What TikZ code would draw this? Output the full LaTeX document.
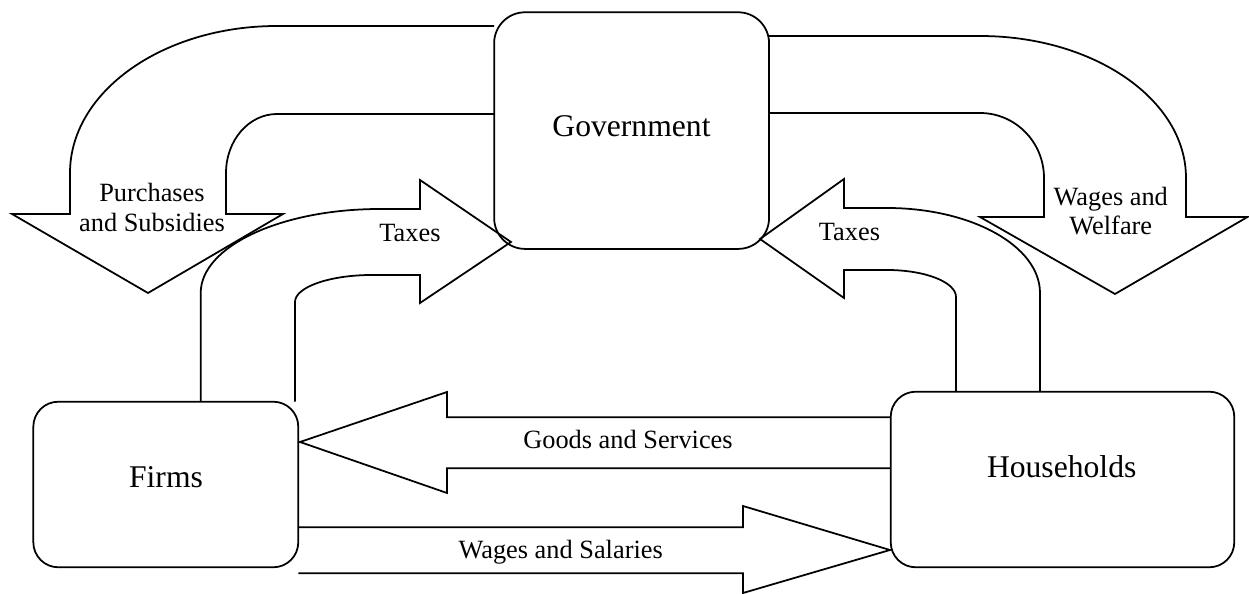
\documentclass[tikz,border=0pt]{standalone}
\usepackage{fontspec}
\setmainfont{Liberation Serif}
\begin{document}
\begin{tikzpicture}[x=0.02cm,y=-0.02cm,
  box/.style={draw, line width=1pt, inner sep=0pt, rounded corners=0.5cm},
  big/.style={font=\fontsize{18}{21.6}\selectfont, inner sep=0pt},
  lbl/.style={font=\fontsize{15}{17}\selectfont, inner sep=0pt, align=center},
  flow/.style={draw, line width=1pt, line join=miter}]
\useasboundingbox (0,0) rectangle (1249,594);

% boxes
\node[box, rounded corners=0.62cm, minimum width=5.5cm, minimum height=4.734cm] (gov) at (631.6,130.6) {};
\node[box, minimum width=5.3cm, minimum height=3.312cm] (firms) at (165.8,484.5) {};
\node[box, minimum width=6.872cm, minimum height=3.512cm] (hh) at (1062.5,479.5) {};

\node[big, anchor=base] (govtext) at (631.5,137) {Government};
\node[big, anchor=base] (firmstext) at (166,488) {Firms};
\node[big, anchor=base] (hhtext) at (1061.7,478) {Households};

% Purchases and Subsidies (government -> firms side)
\draw[flow] (494,26) -- (277,26) .. controls (162.7,26) and (70,91.8) .. (70,173)
  -- (70,214) -- (12,214) -- (148,293) -- (283,214) -- (226,214) -- (226,173)
  .. controls (226,140.4) and (248.8,114) .. (277,114) -- (494,114);

% Wages and Welfare (government -> households side)
\draw[flow] (769,36) -- (980,36) .. controls (1093.8,36) and (1186,99.6) .. (1186,178)
  -- (1186,217) -- (1247.5,217) -- (1115,294) -- (980,217) -- (1044,217) -- (1044,178)
  .. controls (1044,142.1) and (1015.3,113) .. (980,113) -- (769,113);

% Taxes from firms
\draw[flow] (200.7,401.7) -- (200.7,293) .. controls (200.7,246.6) and (280.6,209) .. (380,209)
  -- (420,209) -- (420,180) -- (511,242) -- (420,303) -- (420,275) -- (372,275)
  .. controls (329.5,275) and (295,287.1) .. (295,302) -- (295,401.7);

% Taxes from households
\draw[flow] (1040,391.7) -- (1040,293) .. controls (1040,246.1) and (971.5,208) .. (887,208)
  -- (844,208) -- (844,179) -- (760,239) -- (844,298) -- (844,270) -- (887,270)
  .. controls (925.1,270) and (956,282.1) .. (956,297) -- (956,391.7);

% Goods and Services
\draw[flow] (890.7,417.3) -- (447,417.3) -- (447,392) -- (300,442) -- (447,493)
  -- (447,468.3) -- (890.7,468.3);

% Wages and Salaries
\draw[flow] (298.3,527.3) -- (743,527.3) -- (743,506) -- (890,550) -- (743,593)
  -- (743,573.3) -- (298.3,573.3);

% labels
\node[lbl] (lpurch) at (152,207.7) {Purchases\\and Subsidies};
\node[lbl] (lwelf) at (1110.8,211) {Wages and\\Welfare};
\node[lbl, anchor=base] (ltaxf) at (410,241.7) {Taxes};
\node[lbl, anchor=base] (ltaxh) at (849.5,241) {Taxes};
\node[lbl, anchor=base] (lgoods) at (628,448.3) {Goods and Services};
\node[lbl, anchor=base] (lwages) at (560.7,558.3) {Wages and Salaries};
\end{tikzpicture}
\end{document}
